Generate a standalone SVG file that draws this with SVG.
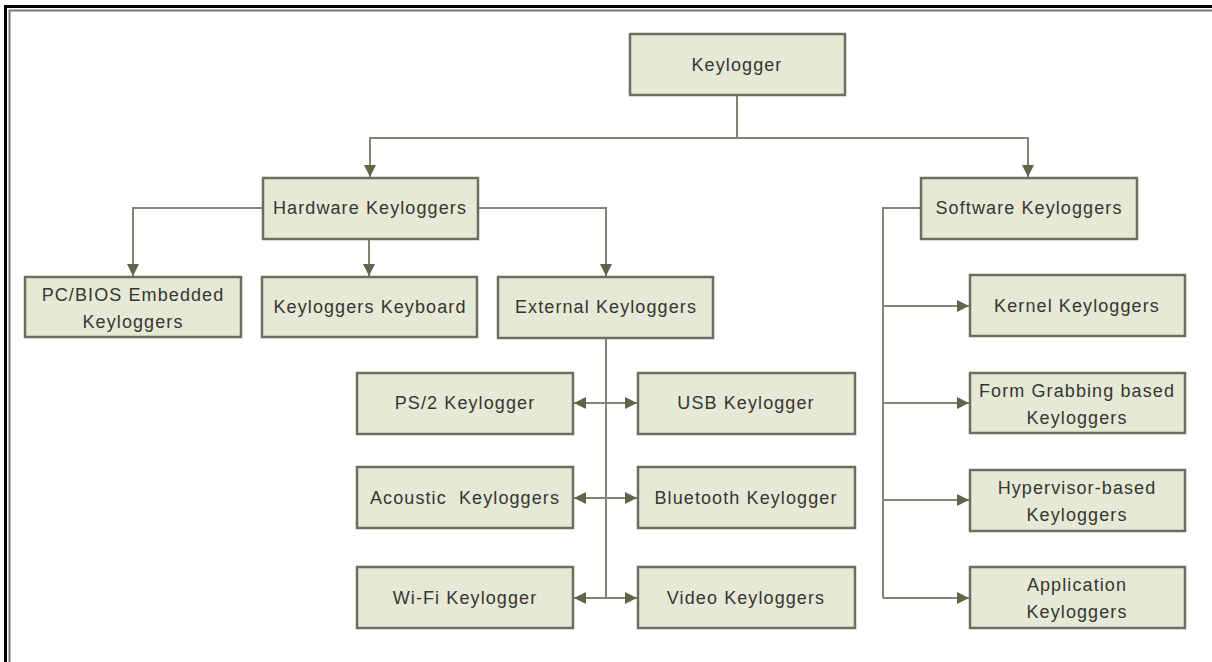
<svg xmlns="http://www.w3.org/2000/svg" width="1212" height="662" viewBox="0 0 1212 662">
<style>
.box{fill:#e5e9d5;stroke:#6a705e;stroke-width:2.5}
.t{font-family:"Liberation Sans",Arial,sans-serif;font-size:18px;letter-spacing:1.1px;fill:#363632;text-anchor:middle}
.c{fill:none;stroke:#80857a;stroke-width:2}
</style>
<defs>
<marker id="ah" viewBox="0 0 10 10" refX="10" refY="5" markerWidth="12" markerHeight="12" markerUnits="userSpaceOnUse" orient="auto-start-reverse">
<path d="M0,0 L10,5 L0,10 Z" fill="#5c6749"/>
</marker>
</defs>
<rect width="1212" height="662" fill="#ffffff"/>
<rect x="5.5" y="6.5" width="1260" height="720" fill="none" stroke="#000" stroke-width="3"/>
<rect x="9.5" y="10.5" width="1260" height="720" fill="none" stroke="#777" stroke-width="2"/>

<g id="connectors">
<path class="c" d="M737,96 V138 H370 V177" marker-end="url(#ah)"/>
<path class="c" d="M737,138 H1028 V177" marker-end="url(#ah)"/>
<path class="c" d="M263,208 H133 V276" marker-end="url(#ah)"/>
<path class="c" d="M369,239 V276" marker-end="url(#ah)"/>
<path class="c" d="M478,208 H606 V276" marker-end="url(#ah)"/>
<path class="c" d="M606,338 V598"/>
<path class="c" d="M574,403 H637" marker-start="url(#ah)" marker-end="url(#ah)"/>
<path class="c" d="M574,498 H637" marker-start="url(#ah)" marker-end="url(#ah)"/>
<path class="c" d="M574,598 H637" marker-start="url(#ah)" marker-end="url(#ah)"/>
<path class="c" d="M921,208 H883 V598"/>
<path class="c" d="M883,306 H969" marker-end="url(#ah)"/>
<path class="c" d="M883,403 H969" marker-end="url(#ah)"/>
<path class="c" d="M883,500 H969" marker-end="url(#ah)"/>
<path class="c" d="M883,598 H969" marker-end="url(#ah)"/>
</g>

<g id="keylogger"><rect class="box" x="630" y="34" width="215" height="61"/><text class="t" x="737" y="71">Keylogger</text></g>
<g id="hardware"><rect class="box" x="263" y="178" width="215" height="61"/><text class="t" x="370" y="214">Hardware Keyloggers</text></g>
<g id="software"><rect class="box" x="921" y="178" width="216" height="61"/><text class="t" x="1029" y="214">Software Keyloggers</text></g>
<g id="pcbios"><rect class="box" x="25" y="277" width="216" height="60"/><text class="t" x="133" y="301">PC/BIOS Embedded</text><text class="t" x="133" y="328">Keyloggers</text></g>
<g id="keyboard"><rect class="box" x="262" y="277" width="215" height="60"/><text class="t" x="370" y="313">Keyloggers Keyboard</text></g>
<g id="external"><rect class="box" x="498" y="277" width="215" height="61"/><text class="t" x="606" y="313">External Keyloggers</text></g>
<g id="ps2"><rect class="box" x="357" y="373" width="216" height="61"/><text class="t" x="465" y="409">PS/2 Keylogger</text></g>
<g id="usb"><rect class="box" x="638" y="373" width="217" height="61"/><text class="t" x="746" y="409">USB Keylogger</text></g>
<g id="acoustic"><rect class="box" x="357" y="467" width="216" height="61"/><text class="t" x="465" y="504" xml:space="preserve">Acoustic  Keyloggers</text></g>
<g id="bluetooth"><rect class="box" x="638" y="467" width="217" height="61"/><text class="t" x="746" y="504">Bluetooth Keylogger</text></g>
<g id="wifi"><rect class="box" x="357" y="567" width="216" height="61"/><text class="t" x="465" y="604">Wi-Fi Keylogger</text></g>
<g id="video"><rect class="box" x="638" y="567" width="217" height="61"/><text class="t" x="746" y="604">Video Keyloggers</text></g>
<g id="kernel"><rect class="box" x="970" y="275" width="215" height="61"/><text class="t" x="1077" y="312">Kernel Keyloggers</text></g>
<g id="formgrabbing"><rect class="box" x="970" y="373" width="215" height="60"/><text class="t" x="1077" y="397">Form Grabbing based</text><text class="t" x="1077" y="424">Keyloggers</text></g>
<g id="hypervisor"><rect class="box" x="970" y="470" width="215" height="61"/><text class="t" x="1077" y="494">Hypervisor-based</text><text class="t" x="1077" y="521">Keyloggers</text></g>
<g id="application"><rect class="box" x="970" y="567" width="215" height="61"/><text class="t" x="1077" y="591">Application</text><text class="t" x="1077" y="618">Keyloggers</text></g>
</svg>
